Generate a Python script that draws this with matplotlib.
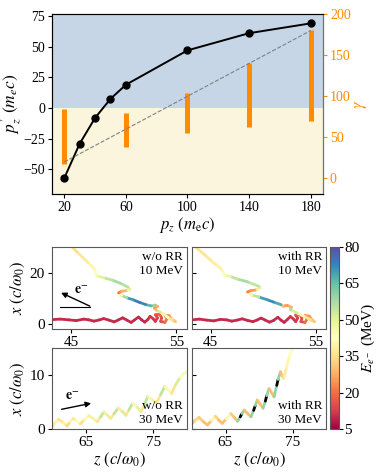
import numpy as np
import matplotlib
matplotlib.use('Agg')
import matplotlib.pyplot as plt
from matplotlib.collections import LineCollection
from matplotlib.colors import Normalize
from matplotlib.cm import ScalarMappable

plt.rcParams['font.family'] = ['Liberation Serif', 'DejaVu Serif']
plt.rcParams['mathtext.fontset'] = 'stix'
plt.rcParams['font.size'] = 10
plt.rcParams['xtick.major.size'] = 3
plt.rcParams['ytick.major.size'] = 3
plt.rcParams['xtick.major.pad'] = 2
plt.rcParams['ytick.major.pad'] = 2

# ---- top panel data
pz = [20, 30, 40, 50, 60, 100, 140, 180]
pz_prime = [-57, -29, -8, 7.5, 19, 47, 61, 69]
bar_pz = [20, 60, 100, 140, 180]
gamma_min = [17, 38, 55, 62, 70]
gamma_max = [85, 80, 104, 141, 181]
ref_pz = [20, 180]
ref_gamma = [20, 180]

# ---- trajectories (z, x, energy in MeV)
tl_z = [43.2, 44.0, 44.8, 45.5, 46.2, 46.7, 47.2, 47.7, 48.1, 48.6, 49.1, 49.5, 49.9, 50.3, 50.7, 51.0,
        51.4, 51.7, 52.0, 52.3, 52.5, 52.8, 53.0, 53.2, 53.0, 53.4, 53.6, 53.5, 53.9, 54.1, 53.9, 54.3,
        54.5, 54.8, 54.9, 54.6, 54.2, 53.9, 53.5, 53.1, 52.9, 53.2, 53.0, 52.6, 52.1, 51.5, 50.9, 50.3,
        49.8, 49.5, 49.8, 50.4, 50.6, 50.4, 49.7, 48.9, 48.1, 47.5, 47.3, 47.3, 47.1, 46.6, 46.2, 45.6, 45.0]
tl_x = [1.7, 1.9, 1.6, 1.3, 1.9, 1.6, 1.1, 1.6, 2.1, 1.5, 0.8, 1.6, 2.4, 1.5, 0.6, 1.5,
        2.7, 1.6, 0.7, 1.8, 3.0, 2.0, 1.0, 2.4, 3.6, 3.8, 2.4, 1.0, 0.6, 2.0, 3.4, 3.3,
        2.0, 1.2, 0.9, 1.6, 2.5, 3.6, 4.6, 5.4, 6.3, 6.9, 7.4, 7.1, 7.6, 8.5, 9.5, 10.3,
        11.2, 12.2, 12.9, 13.2, 13.6, 14.5, 16.0, 17.3, 18.2, 18.9, 19.6, 21.0, 22.3, 24.2, 25.9, 28.2, 30.8]
tl_e = [10, 10, 10, 10, 10, 10, 10, 10, 10, 10, 10, 10, 10, 10, 10, 10,
        10, 10, 10, 11, 12, 12, 12, 14, 16, 18, 15, 15, 20, 22, 25, 25,
        28, 30, 32, 36, 42, 48, 52, 30, 26, 28, 60, 66, 72, 74, 70, 58,
        45, 22, 28, 40, 50, 56, 58, 55, 50, 46, 43, 41, 40, 38, 37, 35, 34]

tr_z = [43.2, 43.9, 44.6, 45.3, 45.9, 46.5, 47.0, 47.5, 48.0, 48.5, 49.0, 49.4, 49.8, 50.2, 50.6, 51.0,
        51.4, 51.7, 52.0, 52.3, 52.6, 52.9, 53.1, 53.3, 53.1, 53.5, 53.7, 53.6, 54.0, 54.2, 54.0, 54.4,
        54.6, 54.8, 54.9, 54.5, 53.9, 53.25, 52.6, 52.7, 52.3, 51.9, 51.7, 51.0, 50.4, 49.6, 48.9, 48.5,
        48.8, 49.4, 49.7, 49.6, 48.5, 47.6, 46.86, 46.3, 46.2, 46.1, 45.9, 45.4, 44.95, 44.4, 43.5]
tr_x = [1.6, 1.9, 1.5, 1.2, 1.8, 1.6, 1.1, 1.5, 2.0, 1.4, 0.9, 1.5, 2.3, 1.5, 0.7, 1.4,
        2.6, 1.5, 0.6, 1.7, 2.9, 1.9, 0.9, 2.3, 3.5, 3.7, 2.3, 0.9, 0.6, 2.0, 3.3, 3.1,
        1.9, 1.2, 0.9, 1.7, 3.0, 4.3, 5.6, 6.6, 7.3, 7.0, 7.6, 8.6, 9.5, 10.6, 11.4, 12.6,
        13.1, 13.45, 14.2, 14.8, 16.6, 17.6, 18.7, 19.3, 20.0, 21.0, 22.0, 23.6, 25.2, 27.3, 30.4]
tr_e = [10, 10, 10, 10, 10, 10, 10, 10, 10, 10, 10, 10, 10, 10, 10, 10,
        10, 10, 10, 11, 12, 12, 12, 14, 16, 18, 15, 15, 20, 22, 25, 25,
        28, 30, 32, 36, 45, 52, 56, 28, 25, 30, 68, 72, 70, 55, 40, 22,
        25, 38, 48, 55, 58, 55, 48, 44, 42, 40, 39, 38, 37, 36, 34]

bl_z = [60.0, 60.5, 60.95, 61.6, 62.2, 62.7, 63.1, 63.6, 64.2, 64.8, 65.45, 66.1, 66.7, 67.2, 67.7, 68.2,
        68.7, 69.2, 69.8, 70.4, 70.95, 71.4, 71.95, 72.6, 73.2, 73.7, 74.2, 74.8, 75.45, 76.1, 76.7, 77.2,
        77.7, 78.3, 79.0, 79.5, 80.0]
bl_x = [0.4, 1.3, 1.85, 1.3, 0.6, 1.4, 2.0, 1.6, 1.0, 1.8, 2.5, 2.0, 1.4, 2.3, 3.2, 2.6,
        2.0, 2.9, 3.9, 3.3, 2.6, 3.6, 4.8, 4.1, 3.3, 4.6, 6.1, 5.5, 4.8, 6.4, 7.9, 7.3,
        6.6, 8.2, 9.6, 10.3, 10.6]
bl_e = [38, 40, 36, 38, 34, 40, 37, 42, 35, 45, 38, 48, 36, 55, 38, 50,
        36, 55, 38, 52, 36, 55, 40, 50, 36, 55, 40, 48, 36, 55, 40, 45,
        36, 52, 42, 45, 42]

br_z = [59.8, 60.4, 61.05, 61.7, 62.3, 62.9, 63.5, 64.0, 64.5, 65.1, 65.8, 66.3, 66.8, 67.2, 67.45, 67.8,
        68.3, 68.8, 69.2, 69.45, 69.75, 70.2, 70.6, 70.95, 71.15, 71.5, 71.9, 72.25, 72.65, 72.85, 73.2,
        73.45, 73.7, 74.1, 74.5, 75.0, 75.5, 76.5]
br_x = [0.8, 1.6, 2.2, 1.4, 0.8, 1.6, 2.4, 1.7, 1.1, 1.9, 2.9, 2.2, 1.5, 2.3, 2.9, 3.55,
        2.9, 2.3, 3.5, 4.4, 5.4, 4.6, 3.9, 5.2, 6.2, 7.5, 6.7, 6.0, 8.1, 9.2, 10.6,
        9.9, 9.4, 11.4, 13.4, 14.9, 15.6, 16.0]
br_e = [30, 34, 32, 30, 30, 40, 33, 30, 30, 45, 32, 30, 60, 90, 60, 30,
        30, 60, 90, 60, 30, 30, 60, 90, 60, 30, 30, 60, 90, 60, 30,
        32, 38, 40, 42, 44, 45, 45]

cmap = plt.get_cmap('Spectral').copy()
cmap.set_over('k')
norm = Normalize(5, 80)


def traj(ax, z, x, e):
    pts = np.column_stack([z, x])
    segs = np.stack([pts[:-1], pts[1:]], axis=1)
    lc = LineCollection(segs, cmap=cmap, norm=norm, linewidths=2.0,
                        capstyle='round', joinstyle='round')
    lc.set_array(np.asarray(e[:-1], dtype=float))
    ax.add_collection(lc)


fig = plt.figure(figsize=(3.8, 4.72), dpi=100)

# ---------------- top panel
ax = fig.add_axes([0.1368, 0.589, 0.7132, 0.381])
ax.axhspan(0, 80, color='#c6d6e6', lw=0)
ax.axhspan(-80, 0, color='#faf5dc', lw=0)
ax.plot(pz, pz_prime, 'o-', color='k', lw=1.4, ms=5)
ax.set_xlim(12, 188)
ax.set_ylim(-70, 76.5)
ax.set_xticks([20, 60, 100, 140, 180])
ax.set_yticks([-50, -25, 0, 25, 50, 75])
ax.set_xlabel(r'$p_z\ (m_\mathrm{e}c)$', labelpad=1, fontsize=12)
ax.set_ylabel(r"$p_z^{\,\prime}\ (m_e c)$", labelpad=0, fontsize=12.5)
for s in ax.spines.values():
    s.set_color('0.2')

ax2 = ax.twinx()
ax2.vlines(bar_pz, gamma_min, gamma_max, color='#ff8c00', lw=3.6)
ax2.plot(ref_pz, ref_gamma, '--', color='gray', lw=0.8)
ax2.set_ylim(-19, 200)
ax2.set_yticks([0, 50, 100, 150, 200])
ax2.tick_params(axis='y', colors='#ff8c00')
ax2.spines['right'].set_color('0.45')
ax2.set_ylabel(r'$\gamma$', color='#ff8c00', labelpad=2, fontsize=12)

# ---------------- bottom panels
W, H = 380, 472
cols = [(52, 187), (192, 326)]
rows = [(247.3, 329), (348, 429.3)]
axes = {}
for i, (y0, y1) in enumerate(rows):
    for j, (x0, x1) in enumerate(cols):
        a = fig.add_axes([x0 / W, 1 - y1 / H, (x1 - x0) / W, (y1 - y0) / H])
        for s in a.spines.values():
            s.set_color('0.35')
        a.tick_params(labelsize=11)
        axes[i, j] = a

for j in range(2):
    axes[0, j].set_xlim(43.2, 56)
    axes[0, j].set_ylim(-2, 30.2)
    axes[0, j].set_xticks([45, 55])
    axes[0, j].set_yticks([0, 20])
    axes[1, j].set_xlim(60, 80)
    axes[1, j].set_ylim(0, 15)
    axes[1, j].set_xticks([65, 75])
    axes[1, j].set_yticks([0, 10])
    axes[1, j].set_xlabel(r'$z\ (c/\omega_0)$', labelpad=1, fontsize=12)
axes[0, 1].tick_params(axis='y', labelleft=False, direction='in')
axes[1, 1].tick_params(axis='y', labelleft=False, direction='in')
for i in range(2):
    axes[i, 0].set_ylabel(r'$x\ (c/\omega_0)$', labelpad=2, fontsize=12)

traj(axes[0, 0], tl_z, tl_x, tl_e)
traj(axes[0, 1], tr_z, tr_x, tr_e)
traj(axes[1, 0], bl_z, bl_x, bl_e)
traj(axes[1, 1], br_z, br_x, br_e)

txt = dict(fontsize=9.5, ha='right', linespacing=1.2)
axes[0, 0].text(0.97, 0.95, 'w/o RR\n10 MeV', transform=axes[0, 0].transAxes, va='top', **txt)
axes[0, 1].text(0.97, 0.95, 'with RR\n10 MeV', transform=axes[0, 1].transAxes, va='top', **txt)
axes[1, 0].text(0.97, 0.04, 'w/o RR\n30 MeV', transform=axes[1, 0].transAxes, va='bottom', **txt)
axes[1, 1].text(0.97, 0.04, 'with RR\n30 MeV', transform=axes[1, 1].transAxes, va='bottom', **txt)

a = axes[0, 0]
a.plot([0.06, 0.28], [0.273, 0.273], transform=a.transAxes, color='k', lw=0.8)
a.annotate('', xy=(0.067, 0.444), xytext=(0.28, 0.28), xycoords='axes fraction',
           arrowprops=dict(arrowstyle='-|>', color='k', lw=1.0, mutation_scale=8, shrinkA=0, shrinkB=0))
a.text(0.22, 0.47, r'$\mathbf{e}^{-}$', transform=a.transAxes, ha='center', va='center', fontsize=10)

a = axes[1, 0]
a.annotate('', xy=(0.29, 0.32), xytext=(0.071, 0.246), xycoords='axes fraction',
           arrowprops=dict(arrowstyle='-|>', color='k', lw=1.0, mutation_scale=8, shrinkA=0, shrinkB=0))
a.text(0.15, 0.41, r'$\mathbf{e}^{-}$', transform=a.transAxes, ha='center', va='center', fontsize=10)

cax = fig.add_axes([330 / W, 1 - 429.3 / H, 9 / W, (429.3 - 247) / H])
cb = fig.colorbar(ScalarMappable(norm=norm, cmap=cmap), cax=cax, ticks=[5, 20, 35, 50, 65, 80])
cb.outline.set_edgecolor('0.35')
cb.ax.tick_params(pad=1, labelsize=11)
cb.set_label(r'$E_{e^-}$ (MeV)', labelpad=0, fontsize=11)

fig.savefig('out.png', dpi=100)
